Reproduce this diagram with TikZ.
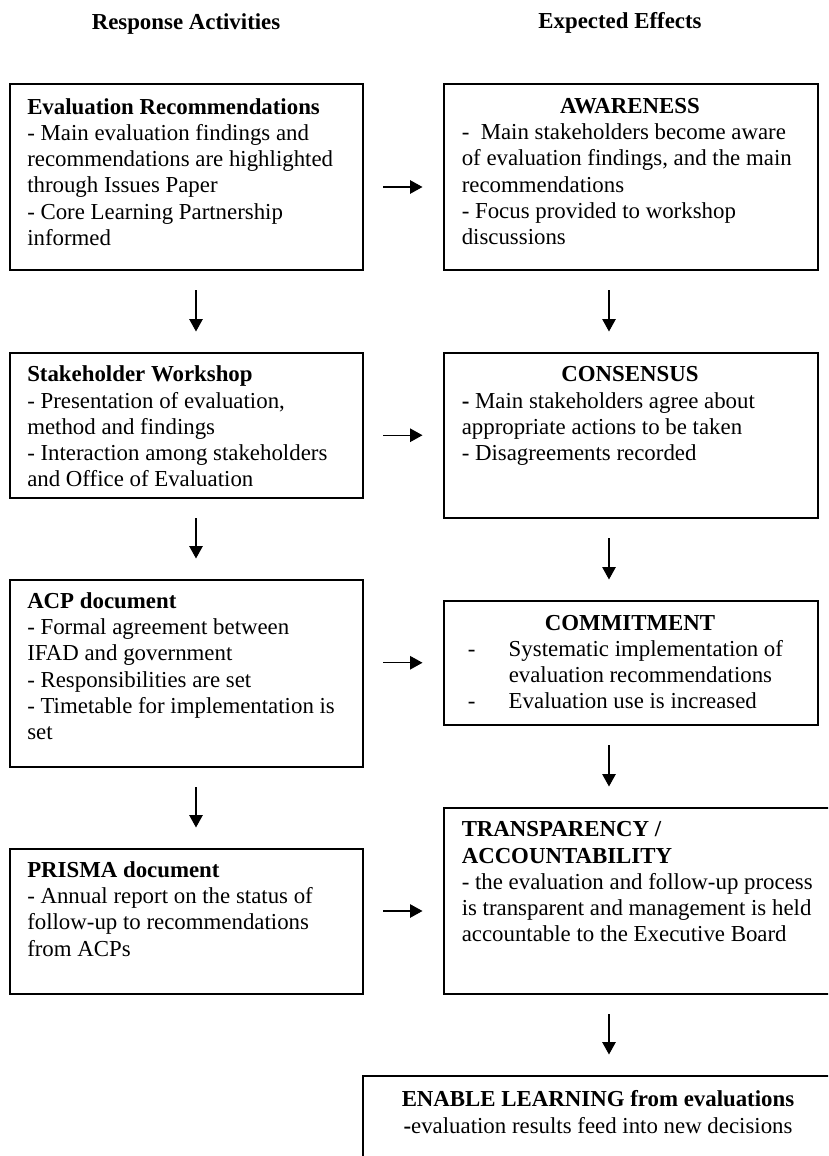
\documentclass[tikz,border=0pt]{standalone}
\usepackage{fontspec}
\setmainfont{Liberation Serif}
\usetikzlibrary{arrows.meta}

\tikzset{every picture/.style={line width=1.5pt}}
\tikzset{
	box/.style={draw, line width=1.5pt, anchor=north west, inner sep=0pt},
	txt/.style={anchor=base west, align=left, inner sep=0pt, font=\fontsize{22.85}{26.3}\selectfont},
	head/.style={anchor=base, inner sep=0pt, font=\fontsize{22.85}{26.3}\selectfont\bfseries},
	plain/.style={anchor=base, inner sep=0pt, font=\fontsize{22.85}{26.3}\selectfont},
	arr/.style={line width=1.3pt, -{Triangle[length=12.5pt,width=13.5pt]}, shorten <=19.5pt, shorten >=20.5pt}}

\begin{document}
\begin{tikzpicture}[x=1pt,y=1pt,yscale=-1,xscale=1]
	\useasboundingbox (0,0) rectangle (828,1156);
	\clip (0,0) rectangle (828,1156);

	%Shape: Rectangle [id:evalrec]
	\node[box, minimum width=353, minimum height=186] (evalrec) at (9,83) {};
	%Shape: Rectangle [id:workshop]
	\node[box, minimum width=353, minimum height=145] (workshop) at (9,352) {};
	%Shape: Rectangle [id:acp]
	\node[box, minimum width=353, minimum height=187] (acp) at (9,579) {};
	%Shape: Rectangle [id:prisma]
	\node[box, minimum width=353, minimum height=145] (prisma) at (9,848) {};
	%Shape: Rectangle [id:awareness]
	\node[box, minimum width=374, minimum height=186] (awareness) at (443,83) {};
	%Shape: Rectangle [id:consensus]
	\node[box, minimum width=374, minimum height=165] (consensus) at (443,352) {};
	%Shape: Rectangle [id:commitment]
	\node[box, minimum width=374, minimum height=124] (commitment) at (443,600) {};
	%Shape: Rectangle [id:transparency]
	\node[box, minimum width=400, minimum height=186] (transparency) at (443,807) {};
	%Shape: Rectangle [id:learning]
	\node[box, minimum width=472, minimum height=125] (learning) at (362,1075) {};

	% Text Node
	\draw (186,29.3) node[head] (headLeft) {Response Activities};
	% Text Node
	\draw (620,29) node[head] (headRight) {Expected Effects};

	% Text Node (anchored at the base of the last line)
	\draw (26.5,245.5) node[txt] (evalrecText) {\textbf{Evaluation Recommendations}\\- Main evaluation findings and\\recommendations are highlighted\\through Issues Paper\\- Core Learning Partnership\\informed};
	% Text Node
	\draw (26.5,486.9) node[txt] (workshopText) {\textbf{Stakeholder Workshop}\\- Presentation of evaluation,\\method and findings\\- Interaction among stakeholders\\and Office of Evaluation};
	% Text Node
	\draw (26.5,739.8) node[txt] (acpText) {\textbf{ACP document}\\- Formal agreement between\\IFAD and government\\- Responsibilities are set\\- Timetable for implementation is\\set};
	% Text Node
	\draw (26.5,956.2) node[txt] (prismaText) {\textbf{PRISMA document}\\- Annual report on the status of\\follow-up to recommendations\\from ACPs};

	% Text Node
	\draw (630,113.3) node[head] (awarenessHead) {AWARENESS};
	% Text Node
	\draw (461,244.8) node[txt] (awarenessText) {-\ \ Main stakeholders become aware\\of evaluation findings, and the main\\recommendations\\- Focus provided to workshop\\discussions};
	% Text Node
	\draw (630,381.7) node[head] (consensusHead) {CONSENSUS};
	% Text Node
	\draw (461,460.6) node[txt] (consensusText) {\textbf{-} Main stakeholders agree about\\appropriate actions to be taken\\- Disagreements recorded};
	% Text Node
	\draw (630,630) node[head] (commitmentHead) {COMMITMENT};
	% Text Node
	\draw (467,708.9) node[txt] (commitmentText) {\makebox[41pt][l]{-}Systematic implementation of\\\hspace*{41pt}evaluation recommendations\\\makebox[41pt][l]{-}Evaluation use is increased};
	% Text Node
	\draw (461,941.9) node[txt] (transparencyText) {\textbf{TRANSPARENCY /}\\\textbf{ACCOUNTABILITY}\\- the evaluation and follow-up process\\is transparent and management is held\\accountable to the Executive Board};
	% Text Node
	\draw (598,1106.7) node[head] (learningHead) {ENABLE LEARNING from evaluations};
	% Text Node
	\draw (598,1133) node[plain] (learningText) {\textbf{-}evaluation results feed into new decisions};

	\coordinate (lcol) at (196,0);
	\coordinate (rcol) at (609,0);
	\coordinate (row1) at (443,187);
	\coordinate (row4) at (443,911);

	%Straight Lines
	\draw[arr] (lcol |- evalrec.south) -- (lcol |- workshop.north);
	\draw[arr] (lcol |- workshop.south) -- (lcol |- acp.north);
	\draw[arr] (lcol |- acp.south) -- (lcol |- prisma.north);
	%Straight Lines
	\draw[arr] (rcol |- awareness.south) -- (rcol |- consensus.north);
	\draw[arr] (rcol |- consensus.south) -- (rcol |- commitment.north);
	\draw[arr] (rcol |- commitment.south) -- (rcol |- transparency.north);
	\draw[arr] (rcol |- transparency.south) -- (rcol |- learning.north);
	%Straight Lines
	\draw[arr] (evalrec.east |- row1) -- (row1);
	\draw[arr] (workshop.east |- consensus.west) -- (consensus.west);
	\draw[arr] (acp.east |- commitment.west) -- (commitment.west);
	\draw[arr] (prisma.east |- row4) -- (row4);

\end{tikzpicture}
\end{document}
